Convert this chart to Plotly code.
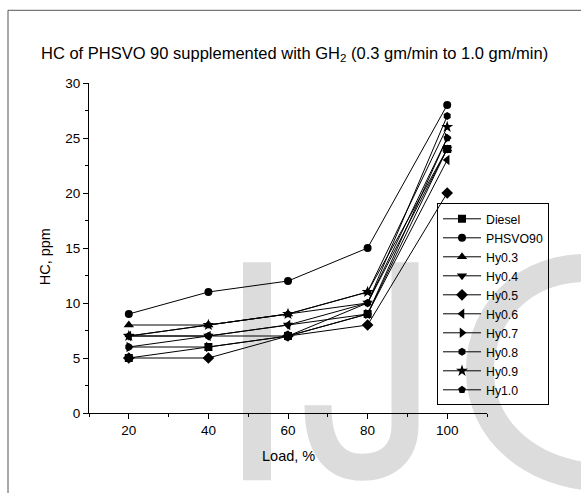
import plotly.graph_objects as go

# ---- data ----
loads = [20, 40, 60, 80, 100]
x_tick_labels = ["20", "40", "60", "80", "100"]
y_tick_vals = [0, 5, 10, 15, 20, 25, 30]

diesel = [5, 6, 7, 9, 24]
phsvo90 = [9, 11, 12, 15, 28]
hy03 = [8, 8, 9, 11, 24]
hy04 = [7, 7, 8, 10, 24]
hy05 = [5, 5, 7, 8, 20]
hy06 = [7, 7, 8, 9, 23]
hy07 = [6, 6, 7, 9, 25]
hy08 = [6, 7, 7, 10, 27]
hy09 = [7, 8, 9, 11, 26]
hy10 = [7, 8, 9, 10, 25]

series_names = ["Diesel", "PHSVO90", "Hy0.3", "Hy0.4", "Hy0.5",
                "Hy0.6", "Hy0.7", "Hy0.8", "Hy0.9", "Hy1.0"]
series_values = [diesel, phsvo90, hy03, hy04, hy05, hy06, hy07, hy08, hy09, hy10]
symbols = ["square", "circle", "triangle-up", "triangle-down", "diamond",
           "triangle-left", "triangle-right", "hexagon", "star", "pentagon"]

# ---- layout geometry (pixels) ----
W, H = 581, 493
L, R, T, B = 89, 487, 82.7, 412.7


def PX(px):
    return (px - L) / (R - L)


def PY(py):
    return (B - py) / (B - T)


FONT = "Liberation Sans, Arial, sans-serif"

fig = go.Figure()
for name, vals, sym in zip(series_names, series_values, symbols):
    msize = 9 if sym in ("star", "diamond", "triangle-up", "triangle-down",
                         "triangle-left", "triangle-right") else 8
    fig.add_trace(go.Scatter(
        x=loads, y=vals, name=name, mode="lines+markers",
        line=dict(color="black", width=1),
        marker=dict(symbol=sym, size=msize, color="black",
                    line=dict(width=0)),
    ))

wm = "#dcdcdc"
shapes = [
    # watermark "I"
    dict(type="rect", xref="paper", yref="paper", layer="below",
         x0=PX(243), x1=PX(271), y0=PY(480), y1=PY(262),
         fillcolor=wm, line=dict(width=0)),
    # watermark "J"
    dict(type="path", xref="paper", yref="paper", layer="below",
         path=(f"M {PX(405)} {PY(262)} L {PX(405)} {PY(425)} "
               f"C {PX(405)} {PY(455)} {PX(385)} {PY(467)} {PX(362)} {PY(467)} "
               f"C {PX(338)} {PY(467)} {PX(318)} {PY(452)} {PX(318)} {PY(405)}"),
         line=dict(color=wm, width=27)),
    # watermark "S" (visible part)
    dict(type="path", xref="paper", yref="paper", layer="below",
         path=(f"M {PX(615)} {PY(270)} "
               f"C {PX(530)} {PY(255)} {PX(480)} {PY(310)} {PX(480)} {PY(370)} "
               f"C {PX(480)} {PY(430)} {PX(530)} {PY(478)} {PX(615)} {PY(478)}"),
         line=dict(color=wm, width=28)),
    # outer frame
    dict(type="line", xref="paper", yref="paper",
         x0=PX(8), x1=PX(8), y0=PY(10), y1=PY(700),
         line=dict(color="#555555", width=1)),
    dict(type="line", xref="paper", yref="paper",
         x0=PX(8), x1=PX(800), y0=PY(10), y1=PY(10),
         line=dict(color="#555555", width=1)),
]

annotations = [
    dict(text="HC of PHSVO 90 supplemented with GH<sub>2</sub> (0.3 gm/min to 1.0 gm/min)",
         xref="paper", yref="paper", x=PX(294), y=PY(54),
         xanchor="center", yanchor="middle", showarrow=False,
         font=dict(family=FONT, size=16.5, color="black")),
    dict(text="Load, %", xref="paper", yref="paper", x=PX(288), y=PY(456),
         xanchor="center", yanchor="middle", showarrow=False,
         font=dict(family=FONT, size=14.5, color="black")),
    dict(text="HC, ppm", xref="paper", yref="paper", x=PX(45), y=PY(257),
         xanchor="center", yanchor="middle", showarrow=False, textangle=-90,
         font=dict(family=FONT, size=14.5, color="black")),
]

fig.update_layout(
    width=W, height=H,
    margin=dict(l=L, r=W - R, t=T, b=H - B, pad=0, autoexpand=False),
    paper_bgcolor="white", plot_bgcolor="rgba(0,0,0,0)",
    font=dict(family=FONT, size=13, color="black"),
    showlegend=True,
    legend=dict(x=PX(437), y=PY(203), xanchor="left", yanchor="top",
                bgcolor="rgba(0,0,0,0)", bordercolor="black", borderwidth=1,
                font=dict(family=FONT, size=12.3, color="black"),
                itemwidth=38, tracegroupgap=0),
    shapes=shapes,
    annotations=annotations,
)

fig.update_xaxes(
    range=[10, 110], tickvals=loads, ticktext=x_tick_labels,
    showline=True, linecolor="black", linewidth=1, showgrid=False, zeroline=False,
    ticks="outside", ticklen=5, tickcolor="black",
    minor=dict(tickvals=[10, 30, 50, 70, 90, 110], ticks="outside", ticklen=3,
               tickcolor="black", showgrid=False),
    tickfont=dict(family=FONT, size=13.5, color="black"),
)
fig.update_yaxes(
    range=[0, 30], tickvals=y_tick_vals,
    showline=True, linecolor="black", linewidth=1, showgrid=False, zeroline=False,
    ticks="outside", ticklen=5, tickcolor="black",
    minor=dict(tickvals=[2.5, 7.5, 12.5, 17.5, 22.5, 27.5], ticks="outside",
               ticklen=3, tickcolor="black", showgrid=False),
    tickfont=dict(family=FONT, size=13.5, color="black"),
)

fig.write_html("out.html",
               config={"displayModeBar": False},
               post_script="document.body.style.margin='0';document.body.style.padding='0';")
